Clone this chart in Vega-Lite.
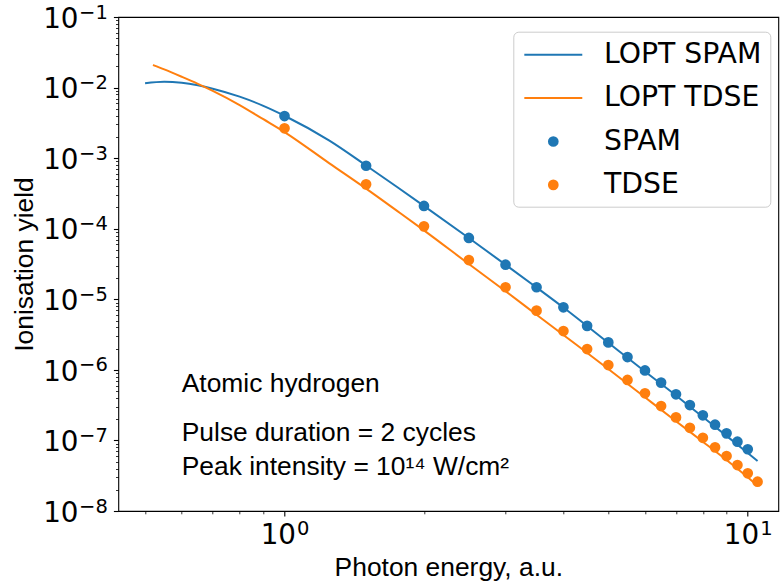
{
  "$schema": "https://vega.github.io/schema/vega-lite/v6.json",
  "autosize": {"type": "none"},
  "padding": {"left": 118.3, "top": 17, "right": 1.7, "bottom": 77},
  "width": 660,
  "height": 494,
  "background": "white",
  "config": {
    "view": {"stroke": "black", "strokeWidth": 1.1},
    "axis": {"grid": false, "domain": false, "labelOverlap": false, "labelFlush": false}
  },
  "datasets": {
    "curves": [
      {"series": "LOPT SPAM", "x": 0.5, "y": 0.01153},
      {"series": "LOPT SPAM", "x": 0.55, "y": 0.01211},
      {"series": "LOPT SPAM", "x": 0.6, "y": 0.0117},
      {"series": "LOPT SPAM", "x": 0.65, "y": 0.01076},
      {"series": "LOPT SPAM", "x": 0.7, "y": 0.00964},
      {"series": "LOPT SPAM", "x": 0.8, "y": 0.00743},
      {"series": "LOPT SPAM", "x": 0.9, "y": 0.00551},
      {"series": "LOPT SPAM", "x": 1.0, "y": 0.00399},
      {"series": "LOPT SPAM", "x": 1.25, "y": 0.00177},
      {"series": "LOPT SPAM", "x": 1.5, "y": 0.000787},
      {"series": "LOPT SPAM", "x": 1.75, "y": 0.00039},
      {"series": "LOPT SPAM", "x": 2.0, "y": 0.00021},
      {"series": "LOPT SPAM", "x": 2.5, "y": 7.39e-5},
      {"series": "LOPT SPAM", "x": 3.0, "y": 3.09e-5},
      {"series": "LOPT SPAM", "x": 3.5, "y": 1.47e-5},
      {"series": "LOPT SPAM", "x": 4.0, "y": 7.64e-6},
      {"series": "LOPT SPAM", "x": 5.0, "y": 2.42e-6},
      {"series": "LOPT SPAM", "x": 6.0, "y": 9.47e-7},
      {"series": "LOPT SPAM", "x": 7.0, "y": 4.33e-7},
      {"series": "LOPT SPAM", "x": 8.0, "y": 2.15e-7},
      {"series": "LOPT SPAM", "x": 9.0, "y": 1.16e-7},
      {"series": "LOPT SPAM", "x": 10.0, "y": 6.63e-8},
      {"series": "LOPT SPAM", "x": 10.5, "y": 5.11e-8},
      {"series": "LOPT TDSE", "x": 0.52, "y": 0.02089},
      {"series": "LOPT TDSE", "x": 0.55, "y": 0.01809},
      {"series": "LOPT TDSE", "x": 0.6, "y": 0.01423},
      {"series": "LOPT TDSE", "x": 0.65, "y": 0.01131},
      {"series": "LOPT TDSE", "x": 0.7, "y": 0.009},
      {"series": "LOPT TDSE", "x": 0.8, "y": 0.00566},
      {"series": "LOPT TDSE", "x": 0.9, "y": 0.00356},
      {"series": "LOPT TDSE", "x": 1.0, "y": 0.002344},
      {"series": "LOPT TDSE", "x": 1.25, "y": 0.000845},
      {"series": "LOPT TDSE", "x": 1.5, "y": 0.00037},
      {"series": "LOPT TDSE", "x": 1.75, "y": 0.000179},
      {"series": "LOPT TDSE", "x": 2.0, "y": 9.48e-5},
      {"series": "LOPT TDSE", "x": 2.5, "y": 3.16e-5},
      {"series": "LOPT TDSE", "x": 3.0, "y": 1.30e-5},
      {"series": "LOPT TDSE", "x": 3.5, "y": 6.05e-6},
      {"series": "LOPT TDSE", "x": 4.0, "y": 3.12e-6},
      {"series": "LOPT TDSE", "x": 5.0, "y": 1.03e-6},
      {"series": "LOPT TDSE", "x": 6.0, "y": 4.08e-7},
      {"series": "LOPT TDSE", "x": 7.0, "y": 1.87e-7},
      {"series": "LOPT TDSE", "x": 8.0, "y": 9.6e-8},
      {"series": "LOPT TDSE", "x": 9.0, "y": 5.28e-8},
      {"series": "LOPT TDSE", "x": 10.0, "y": 3.0e-8},
      {"series": "LOPT TDSE", "x": 10.5, "y": 2.28e-8}
    ],
    "dots": [
      {"series": "SPAM", "x": 1.0, "y": 0.00395},
      {"series": "SPAM", "x": 1.5, "y": 0.00078},
      {"series": "SPAM", "x": 2.0, "y": 0.00021},
      {"series": "SPAM", "x": 2.5, "y": 7.4e-5},
      {"series": "SPAM", "x": 3.0, "y": 3.09e-5},
      {"series": "SPAM", "x": 3.5, "y": 1.48e-5},
      {"series": "SPAM", "x": 4.0, "y": 7.7e-6},
      {"series": "SPAM", "x": 4.5, "y": 4.2e-6},
      {"series": "SPAM", "x": 5.0, "y": 2.45e-6},
      {"series": "SPAM", "x": 5.5, "y": 1.52e-6},
      {"series": "SPAM", "x": 6.0, "y": 9.8e-7},
      {"series": "SPAM", "x": 6.5, "y": 6.6e-7},
      {"series": "SPAM", "x": 7.0, "y": 4.5e-7},
      {"series": "SPAM", "x": 7.5, "y": 3.17e-7},
      {"series": "SPAM", "x": 8.0, "y": 2.27e-7},
      {"series": "SPAM", "x": 8.5, "y": 1.67e-7},
      {"series": "SPAM", "x": 9.0, "y": 1.26e-7},
      {"series": "SPAM", "x": 9.5, "y": 9.6e-8},
      {"series": "SPAM", "x": 10.0, "y": 7.5e-8},
      {"series": "TDSE", "x": 1.0, "y": 0.00265},
      {"series": "TDSE", "x": 1.5, "y": 0.000425},
      {"series": "TDSE", "x": 2.0, "y": 0.000108},
      {"series": "TDSE", "x": 2.5, "y": 3.6e-5},
      {"series": "TDSE", "x": 3.0, "y": 1.48e-5},
      {"series": "TDSE", "x": 3.5, "y": 6.9e-6},
      {"series": "TDSE", "x": 4.0, "y": 3.55e-6},
      {"series": "TDSE", "x": 4.5, "y": 1.97e-6},
      {"series": "TDSE", "x": 5.0, "y": 1.17e-6},
      {"series": "TDSE", "x": 5.5, "y": 7.2e-7},
      {"series": "TDSE", "x": 6.0, "y": 4.65e-7},
      {"series": "TDSE", "x": 6.5, "y": 3.07e-7},
      {"series": "TDSE", "x": 7.0, "y": 2.12e-7},
      {"series": "TDSE", "x": 7.5, "y": 1.51e-7},
      {"series": "TDSE", "x": 8.0, "y": 1.09e-7},
      {"series": "TDSE", "x": 8.5, "y": 7.98e-8},
      {"series": "TDSE", "x": 9.0, "y": 6.0e-8},
      {"series": "TDSE", "x": 9.5, "y": 4.48e-8},
      {"series": "TDSE", "x": 10.0, "y": 3.42e-8},
      {"series": "TDSE", "x": 10.5, "y": 2.6e-8}
    ]
  },
  "resolve": {"axis": {"x": "independent", "y": "independent"}},
  "layer": [
    {
      "data": {"name": "curves"},
      "mark": {"type": "line", "strokeWidth": 2, "interpolate": "monotone"},
      "encoding": {
        "x": {
          "field": "x", "type": "quantitative",
          "scale": {"type": "log", "domain": [0.4377, 11.64], "nice": false, "zero": false},
          "axis": {
            "orient": "bottom",
            "values": [1, 10], "tickSize": 4.9, "tickWidth": 1.1, "tickColor": "black",
            "labelExpr": "'10'", "labelFont": "DejaVu Sans", "labelFontSize": 27.8, "labelColor": "black",
            "labelAlign": "center", "labelOffset": -6.7, "labelBaseline": "alphabetic", "labelPadding": 27.4,
            "title": "Photon energy, a.u.", "titleFont": "Liberation Sans", "titleFontSize": 26.4,
            "titleFontWeight": "normal", "titleColor": "black", "titleBaseline": "alphabetic", "titleY": 64
          }
        },
        "y": {
          "field": "y", "type": "quantitative",
          "scale": {"type": "log", "domain": [1e-8, 0.1], "nice": false, "zero": false},
          "axis": {
            "orient": "left",
            "values": [1e-8, 1e-7, 1e-6, 1e-5, 1e-4, 1e-3, 1e-2, 1e-1],
            "tickSize": 4.9, "tickWidth": 1.1, "tickColor": "black",
            "labelExpr": "'10'", "labelFont": "DejaVu Sans", "labelFontSize": 27.8, "labelColor": "black",
            "labelAlign": "right", "labelBaseline": "alphabetic", "labelOffset": 10.2, "labelPadding": 35.4,
            "title": "Ionisation yield", "titleFont": "Liberation Sans", "titleFontSize": 26.4,
            "titleFontWeight": "normal", "titleColor": "black", "titleBaseline": "alphabetic",
            "titleAlign": "center", "titleAngle": 270, "titleX": -86.3, "titleY": 247
          }
        },
        "stroke": {
          "field": "series", "type": "nominal",
          "scale": {"domain": ["LOPT SPAM", "LOPT TDSE", "SPAM", "TDSE"], "range": ["#1f77b4", "#ff7f0e", "#1f77b4", "#ff7f0e"]},
          "legend": {
            "title": null, "orient": "none", "legendX": 395, "legendY": 14.7,
            "labelFont": "DejaVu Sans", "labelFontSize": 28.3, "labelColor": "black",
            "symbolSize": 784, "symbolStrokeWidth": 2, "symbolOffset": 17, "labelOffset": 35.7,
            "padding": 8, "rowPadding": 14.4,
            "fillColor": "rgba(255,255,255,0.8)", "strokeColor": "#cccccc", "cornerRadius": 5
          }
        }
      }
    },
    {
      "data": {"name": "dots"},
      "mark": {"type": "point", "filled": true, "size": 784, "strokeWidth": 2, "opacity": 1},
      "encoding": {
        "x": {
          "field": "x", "type": "quantitative",
          "scale": {"type": "log", "domain": [0.4377, 11.64], "nice": false, "zero": false},
          "axis": {
            "orient": "bottom",
            "values": [1, 10], "ticks": false,
            "labelExpr": "'' + round(log(datum.value) / LN10)", "labelFont": "DejaVu Sans", "labelFontSize": 19.5,
            "labelColor": "black", "labelAlign": "center", "labelOffset": 18.2, "labelBaseline": "alphabetic",
            "labelPadding": 23.3, "title": null
          }
        },
        "y": {
          "field": "y", "type": "quantitative",
          "scale": {"type": "log", "domain": [1e-8, 0.1], "nice": false, "zero": false},
          "axis": {
            "orient": "left",
            "values": [1e-8, 1e-7, 1e-6, 1e-5, 1e-4, 1e-3, 1e-2, 1e-1], "ticks": false,
            "labelExpr": "'\u2212' + round(-log(datum.value) / LN10)", "labelFont": "DejaVu Sans", "labelFontSize": 19.5,
            "labelColor": "black", "labelAlign": "right", "labelBaseline": "alphabetic", "labelOffset": 1,
            "labelPadding": 11, "title": null
          }
        },
        "color": {
          "field": "series", "type": "nominal",
          "scale": {"domain": ["LOPT SPAM", "LOPT TDSE", "SPAM", "TDSE"], "range": ["#1f77b4", "#ff7f0e", "#1f77b4", "#ff7f0e"]}
        },
        "stroke": {"field": "series", "type": "nominal"},
        "shape": {
          "field": "series", "type": "nominal",
          "scale": {
            "domain": ["LOPT SPAM", "LOPT TDSE", "SPAM", "TDSE"],
            "range": ["M-2.07,0L2.07,0", "M-2.07,0L2.07,0",
                      "M0.311,0A0.311,0.311,0,1,1,-0.311,0A0.311,0.311,0,1,1,0.311,0Z",
                      "M0.311,0A0.311,0.311,0,1,1,-0.311,0A0.311,0.311,0,1,1,0.311,0Z"]
          }
        }
      }
    },
    {
      "data": {"values": [{}]},
      "mark": {"type": "text", "align": "left", "baseline": "alphabetic", "font": "Liberation Sans", "fontSize": 26.4, "color": "black", "text": "Atomic hydrogen"},
      "encoding": {
        "x": {
          "datum": 0.6, "type": "quantitative",
          "scale": {"type": "log", "domain": [0.4377, 11.64], "nice": false, "zero": false},
          "axis": {
            "orient": "bottom",
            "values": [0.5, 0.6, 0.7, 0.8, 0.9, 2, 3, 4, 5, 6, 7, 8, 9],
            "tickSize": 2.8, "tickWidth": 0.8, "tickColor": "black", "labels": false, "title": null
          }
        },
        "y": {
          "datum": 4.9e-7, "type": "quantitative",
          "scale": {"type": "log", "domain": [1e-8, 0.1], "nice": false, "zero": false},
          "axis": {
            "orient": "left",
            "values": [2e-8, 3e-8, 4e-8, 5e-8, 6e-8, 7e-8, 8e-8, 9e-8,
                       2e-7, 3e-7, 4e-7, 5e-7, 6e-7, 7e-7, 8e-7, 9e-7,
                       2e-6, 3e-6, 4e-6, 5e-6, 6e-6, 7e-6, 8e-6, 9e-6,
                       2e-5, 3e-5, 4e-5, 5e-5, 6e-5, 7e-5, 8e-5, 9e-5,
                       0.0002, 0.0003, 0.0004, 0.0005, 0.0006, 0.0007, 0.0008, 0.0009,
                       0.002, 0.003, 0.004, 0.005, 0.006, 0.007, 0.008, 0.009,
                       0.02, 0.03, 0.04, 0.05, 0.06, 0.07, 0.08, 0.09],
            "tickSize": 2.8, "tickWidth": 0.8, "tickColor": "black", "labels": false, "title": null
          }
        }
      }
    },
    {
      "data": {"values": [{}]},
      "mark": {"type": "text", "align": "left", "baseline": "alphabetic", "font": "Liberation Sans", "fontSize": 26.4, "color": "black", "text": "Pulse duration = 2 cycles"},
      "encoding": {
        "x": {"datum": 0.6, "type": "quantitative", "axis": null},
        "y": {"datum": 9.9e-8, "type": "quantitative", "axis": null}
      }
    },
    {
      "data": {"values": [{}]},
      "mark": {"type": "text", "align": "left", "baseline": "alphabetic", "font": "Liberation Sans", "fontSize": 26.4, "color": "black", "text": "Peak intensity = 10\u00b9\u2074 W/cm\u00b2"},
      "encoding": {
        "x": {"datum": 0.6, "type": "quantitative", "axis": null},
        "y": {"datum": 3.2e-8, "type": "quantitative", "axis": null}
      }
    }
  ]
}
